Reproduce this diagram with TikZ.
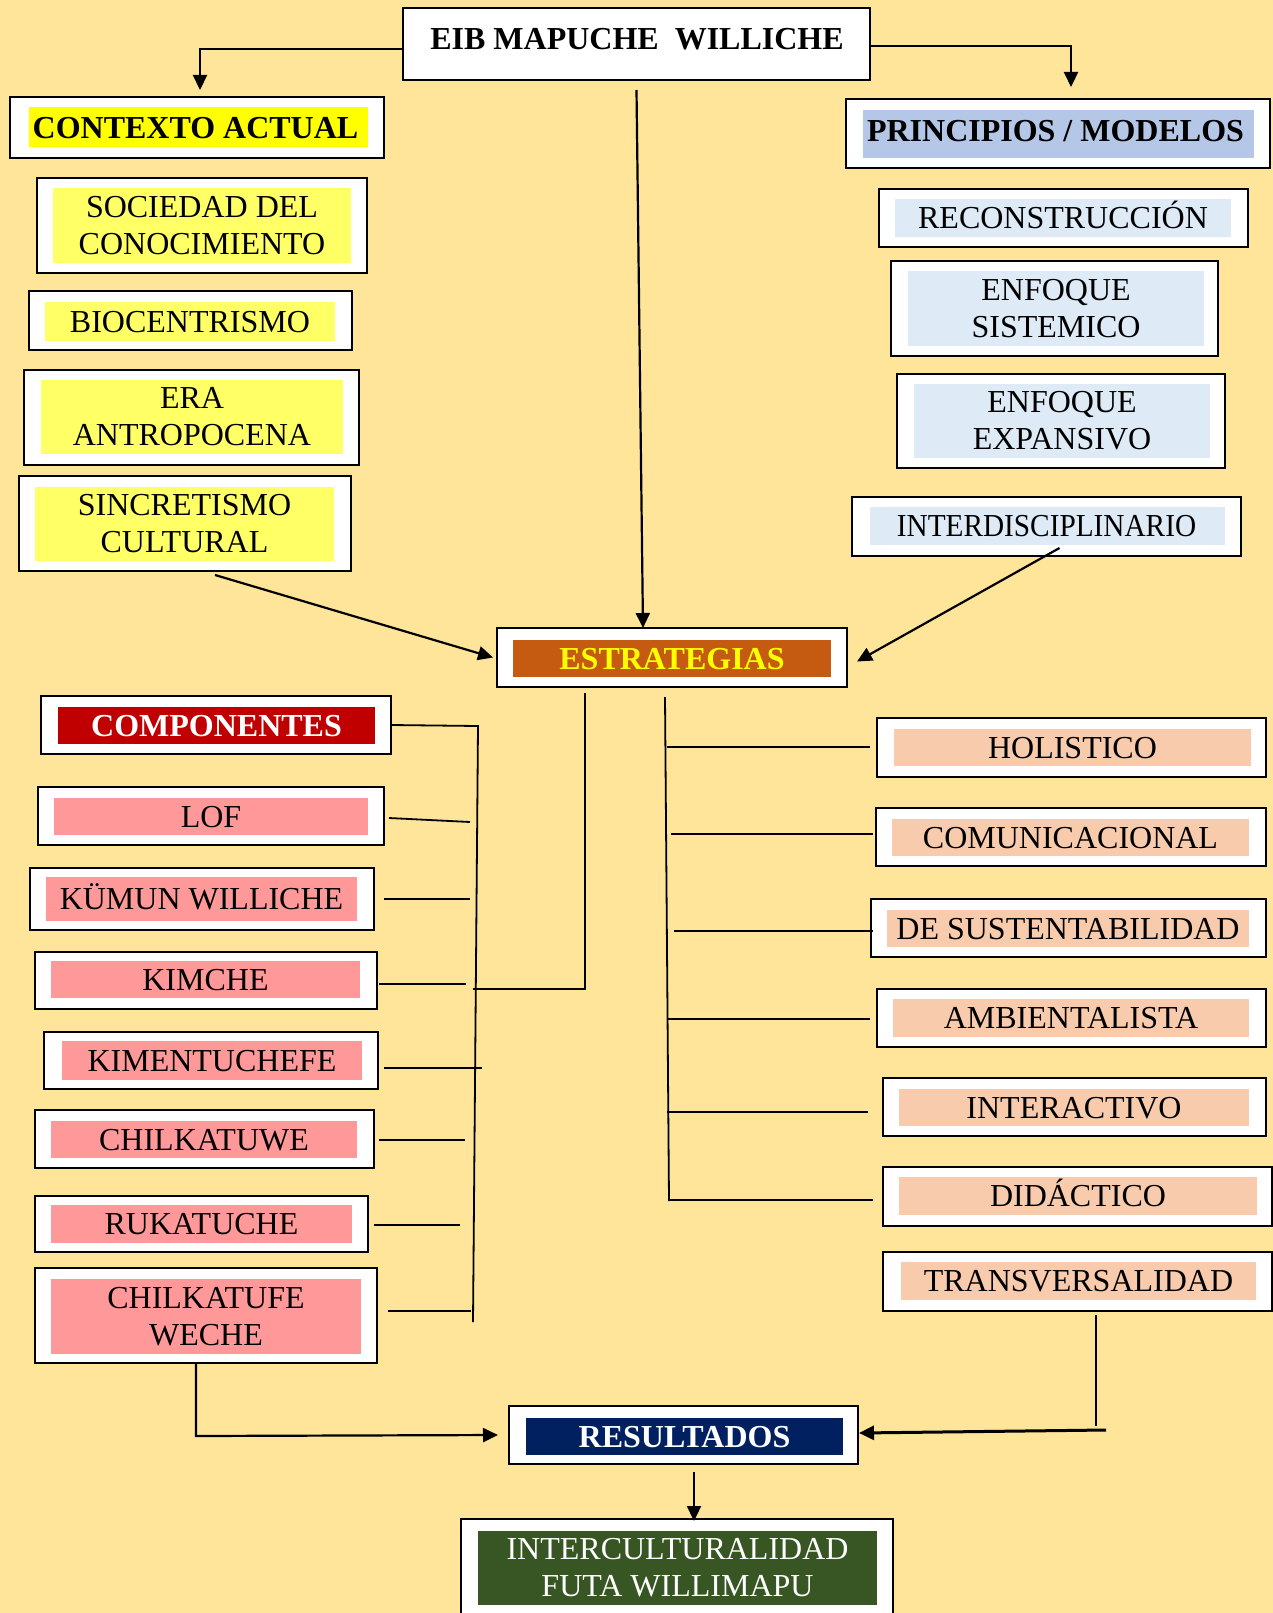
\documentclass[tikz,border=0pt]{standalone}
\usepackage{fontspec}
\usepackage{graphicx}
\setmainfont{Liberation Serif}
\usetikzlibrary{fit,arrows.meta}
\definecolor{bgc}{HTML}{FFE599}
\definecolor{yel}{HTML}{FFFF00}
\definecolor{lyel}{HTML}{FFFF66}
\definecolor{pblue}{HTML}{B4C7E7}
\definecolor{lblue}{HTML}{DEEBF7}
\definecolor{orng}{HTML}{C55A11}
\definecolor{dred}{HTML}{C00000}
\definecolor{pink}{HTML}{FF9999}
\definecolor{peach}{HTML}{F8CBAD}
\definecolor{navy}{HTML}{002060}
\definecolor{dgreen}{HTML}{375623}
\tikzset{
  obox/.style={draw=black, line width=2.5pt, fill=white, inner sep=0pt, outer sep=0pt},
  ibox/.style={draw=none, inner sep=0pt, outer sep=0pt},
  lbl/.style={font=\fontsize{32}{37}\selectfont, inner sep=0pt, text height=21.2pt, text depth=0pt},
  lblb/.style={font=\fontsize{32}{37}\selectfont\bfseries, inner sep=0pt, text height=21.6pt, text depth=0pt},
  lbltwo/.style={font=\fontsize{32}{37}\selectfont, inner sep=0pt, align=center},
  conn/.style={line width=1.8pt},
  arr/.style={line width=2.2pt, -{Triangle[length=15pt,width=14pt]}},
}
\newcommand\bx[6]{%
  \node[obox, fit={#2}] (#1) {};
  \node[ibox, fill=#4, fit={#3}] (#1-i) {};
  \node[#5] at (#1-i.center) {#6};
}
\begin{document}
\begin{tikzpicture}[x=1pt,y=-1pt]
\fill[bgc] (0,0) rectangle (1273,1613);
\useasboundingbox (0,0) rectangle (1273,1613);

% title
\node[obox, fit={(403,8) (870,80)}] (eib) {};
\node[lblb] (eibt) at (637,39) {EIB MAPUCHE\ \ WILLICHE};

% left column: contexto
\bx{ctx}{(10,97) (384,158)}{(29,107) (368,147)}{yel}{lblb,yshift=-1pt,xshift=-3pt}{CONTEXTO ACTUAL}
\bx{soc}{(37,178) (367,273)}{(53,188) (351,263)}{lyel}{lbltwo}{SOCIEDAD DEL\\CONOCIMIENTO}
\bx{bio}{(29,291) (352,350)}{(45,302) (335,341)}{lyel}{lbl}{BIOCENTRISMO}
\bx{era}{(24,370) (359,465)}{(41,380) (343,454)}{lyel}{lbltwo}{ERA\\ANTROPOCENA}
\bx{sinc}{(19,476) (351,571)}{(35,487) (334,561)}{lyel}{lbltwo}{SINCRETISMO\\CULTURAL}

% right column: principios
\bx{prin}{(846,99) (1270,168)}{(863,110) (1254,158)}{pblue}{lblb,yshift=3pt,xshift=-3pt}{PRINCIPIOS / MODELOS}
\bx{rec}{(879,189) (1248,247)}{(895,199) (1231,237)}{lblue}{lbl}{RECONSTRUCCIÓN}
\bx{sis}{(891,261) (1218,356)}{(908,271) (1204,346)}{lblue}{lbltwo}{ENFOQUE\\SISTEMICO}
\bx{exp}{(897,374) (1225,468)}{(914,384) (1210,458)}{lblue}{lbltwo}{ENFOQUE\\EXPANSIVO}
\bx{inter}{(852,497) (1241,556)}{(870,507) (1225,545)}{lblue}{lbl,xshift=-1pt}{\scalebox{0.915}[1]{INTERDISCIPLINARIO}}

% estrategias
\bx{estr}{(497,628) (847,687)}{(513,640) (831,677)}{orng}{lblb,text=yel}{ESTRATEGIAS}

% componentes
\bx{comp}{(41,696) (391,754)}{(58,707) (375,744)}{dred}{lblb,text=white}{COMPONENTES}
\bx{lof}{(38,787) (384,845)}{(54,798) (368,835)}{pink}{lbl}{LOF}
\bx{kum}{(30,868) (374,930)}{(46,877) (357,921)}{pink}{lbl}{KÜMUN WILLICHE}
\bx{kim}{(35,952) (377,1009)}{(51,961) (360,998)}{pink}{lbl}{KIMCHE}
\bx{kimt}{(44,1032) (378,1089)}{(62,1041) (362,1080)}{pink}{lbl}{KIMENTUCHEFE}
\bx{chw}{(35,1110) (374,1168)}{(51,1121) (357,1158)}{pink}{lbl}{CHILKATUWE}
\bx{ruk}{(35,1196) (368,1252)}{(51,1205) (352,1243)}{pink}{lbl}{RUKATUCHE}
\bx{chf}{(35,1268) (377,1363)}{(51,1279) (361,1354)}{pink}{lbltwo}{CHILKATUFE\\WECHE}

% strategy types
\bx{hol}{(877,718) (1266,777)}{(894,729) (1251,766)}{peach}{lbl}{HOLISTICO}
\bx{com}{(876,808) (1266,866)}{(892,819) (1249,856)}{peach}{lbl}{COMUNICACIONAL}
\bx{sus}{(871,899) (1266,957)}{(887,910) (1249,947)}{peach}{lbl}{DE SUSTENTABILIDAD}
\bx{amb}{(877,989) (1266,1047)}{(893,999) (1249,1037)}{peach}{lbl}{AMBIENTALISTA}
\bx{inta}{(883,1078) (1266,1136)}{(899,1089) (1249,1126)}{peach}{lbl}{INTERACTIVO}
\bx{did}{(883,1167) (1272,1226)}{(899,1177) (1257,1215)}{peach}{lbl}{DIDÁCTICO}
\bx{trans}{(883,1252) (1272,1311)}{(901,1262) (1256,1300)}{peach}{lbl}{TRANSVERSALIDAD}

% results
\bx{res}{(509,1406) (858,1464)}{(526,1418) (843,1455)}{navy}{lblb,text=white}{RESULTADOS}
\bx{intc}{(461,1519) (893,1640)}{(478,1531) (877,1605)}{dgreen}{lbltwo,text=white}{INTERCULTURALIDAD\\FUTA WILLIMAPU}

% arrows from title
\draw[arr] ([yshift=-5pt]eib.west) -| ([xshift=3pt,yshift=7pt]ctx.north);
\draw[arr] ([yshift=-2pt]eib.east) -| ([xshift=13pt,yshift=12pt]prin.north);
\draw[arr] ([yshift=-10pt]eib.south) -- ([xshift=-29pt]estr.north);

% into estrategias
\draw[arr] ([xshift=30pt,yshift=-4pt]sinc.south) -- ([xshift=-4pt]estr.west);
\draw[arr] ([xshift=13pt,yshift=8pt]inter.south) -- ([xshift=10pt,yshift=-4pt]estr.east);

% componentes tree
\coordinate (ct) at (478,726);
\coordinate (cb) at (473,1322);
\draw[conn] (comp.east) -- (ct) -- (cb);
\draw[conn] ([xshift=5pt,yshift=-2pt]lof.east) -- (470,822);
\draw[conn] ([xshift=10pt]kum.east) -- +(86,0);
\draw[conn] ([xshift=2pt,yshift=-3.5pt]kim.east) -- +(87,0);
\draw[conn] ([xshift=6pt,yshift=-7.5pt]kimt.east) -- +(98,0);
\draw[conn] ([xshift=5pt,yshift=-1pt]chw.east) -- +(86,0);
\draw[conn] ([xshift=6pt,yshift=-1pt]ruk.east) -- +(86,0);
\draw[conn] ([xshift=11pt,yshift=4.5pt]chf.east) -- +(83,0);
\coordinate (sj) at (473,989);
\draw[conn] ([xshift=-87pt,yshift=-6pt]estr.south) -- (585,989) -- (sj);

% strategy types tree
\draw[conn] ([xshift=-7pt,yshift=-10pt]estr.south) -- (669,1201);
\draw[conn] ([xshift=-7pt,yshift=0.5pt]hol.west) -- +(-203,0);
\draw[conn] ([xshift=-3pt,yshift=3pt]com.west) -- +(-202,0);
\draw[conn] ([xshift=2pt,yshift=-3pt]sus.west) -- +(-199,0);
\draw[conn] ([xshift=-7pt,yshift=-1pt]amb.west) -- +(-202,0);
\draw[conn] ([xshift=-15pt,yshift=-5pt]inta.west) -- +(-201,0);
\draw[conn] ([xshift=-10pt,yshift=-3.5pt]did.west) -- +(-204,0);

% into resultados
\draw[arr] ([xshift=-10pt]chf.south) -- (196,1436) -- ([xshift=-11pt]res.west);
\draw[conn] ([xshift=18.5pt,yshift=-4pt]trans.south) -- (1096,1426);
\coordinate (tb) at (1106,1430);
\draw[arr, line width=3pt] (tb) -- ([xshift=1pt,yshift=2pt]res.east);
\draw[arr] ([xshift=10.5pt,yshift=-8pt]res.south) -- ([xshift=17pt,yshift=-2pt]intc.north);
\end{tikzpicture}
\end{document}
